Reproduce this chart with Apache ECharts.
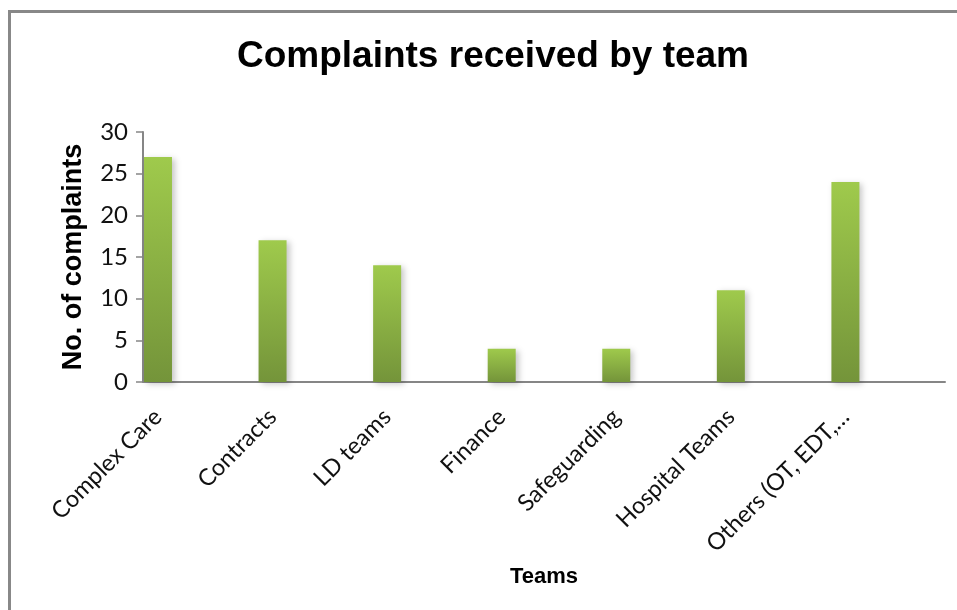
<!DOCTYPE html>
<html>
<head>
<meta charset="utf-8">
<title>Complaints received by team</title>
<script src="https://cdn.jsdelivr.net/npm/echarts@6/dist/echarts.min.js"></script>
<style>
  html, body { margin: 0; padding: 0; background: #fff; }
  #chart { width: 957px; height: 610px; }
</style>
</head>
<body>
<div id="chart"></div>
<script>
// Complaint counts per team
const teams = ['Complex Care', 'Contracts', 'LD teams', 'Finance', 'Safeguarding', 'Hospital Teams', 'Others (OT, EDT,…'];
const complaints = [27, 17, 14, 4, 4, 11, 24];
const yTicks = { min: 0, max: 30, interval: 5 };

const axisGrey = '#868686';
const labelFont = 'Lato, "Open Sans", sans-serif';
const titleFont = '"Liberation Sans", Arial, sans-serif';

const chart = echarts.init(document.getElementById('chart'), null, { renderer: 'canvas' });

chart.setOption({
  backgroundColor: '#ffffff',
  animation: false,
  title: {
    text: 'Complaints received by team',
    left: 488,
    top: 33,
    textAlign: 'center',
    textStyle: { fontFamily: titleFont, fontWeight: 'bold', fontSize: 37, color: '#000' }
  },
  graphic: [{
    type: 'rect',
    shape: { x: 9.5, y: 11.5, width: 980, height: 640 },
    style: { fill: 'none', stroke: '#888888', lineWidth: 3 },
    silent: true
  }],
  grid: [
    // grid 0 holds the bars and category labels
    { left: 100.7, right: 54.3, top: 132, bottom: 228 },
    // grid 1 holds the visible axis lines, value ticks and axis titles
    { left: 143, right: 12, top: 132, bottom: 228 }
  ],
  xAxis: [
    {
      type: 'category',
      gridIndex: 0,
      data: teams,
      axisLine: { show: false },
      axisTick: { show: false },
      axisLabel: {
        rotate: 45,
        interval: 0,
        margin: 31,
        fontFamily: labelFont,
        fontSize: 23.5,
        color: '#111'
      }
    },
    {
      type: 'value',
      gridIndex: 1,
      min: 0,
      max: 1,
      name: 'Teams',
      nameLocation: 'middle',
      nameGap: 184,
      nameTextStyle: { fontFamily: titleFont, fontWeight: 'bold', fontSize: 22, color: '#000' },
      axisLine: { show: true, lineStyle: { color: axisGrey, width: 2 } },
      axisTick: { show: false },
      axisLabel: { show: false },
      splitLine: { show: false }
    }
  ],
  yAxis: [
    {
      type: 'value',
      gridIndex: 0,
      min: yTicks.min,
      max: yTicks.max,
      interval: yTicks.interval,
      show: false
    },
    {
      type: 'value',
      gridIndex: 1,
      min: yTicks.min,
      max: yTicks.max,
      interval: yTicks.interval,
      name: 'No. of complaints',
      nameLocation: 'middle',
      nameGap: 56,
      nameTextStyle: { fontFamily: titleFont, fontWeight: 'bold', fontSize: 27, color: '#000' },
      axisLine: { show: true, lineStyle: { color: axisGrey, width: 2 } },
      axisTick: { show: true, length: 7, lineStyle: { color: axisGrey, width: 1.5 } },
      axisLabel: { margin: 15, fontFamily: labelFont, fontSize: 24, color: '#111' },
      splitLine: { show: false }
    }
  ],
  series: [{
    type: 'bar',
    xAxisIndex: 0,
    yAxisIndex: 0,
    data: complaints,
    barWidth: 28,
    itemStyle: {
      color: new echarts.graphic.LinearGradient(0, 0, 0, 1, [
        { offset: 0, color: '#9fca4c' },
        { offset: 1, color: '#74943a' }
      ]),
      shadowColor: 'rgba(0,0,0,0.22)',
      shadowBlur: 6,
      shadowOffsetX: 3,
      shadowOffsetY: 2
    },
    z: 1
  }]
});
</script>
</body>
</html>
